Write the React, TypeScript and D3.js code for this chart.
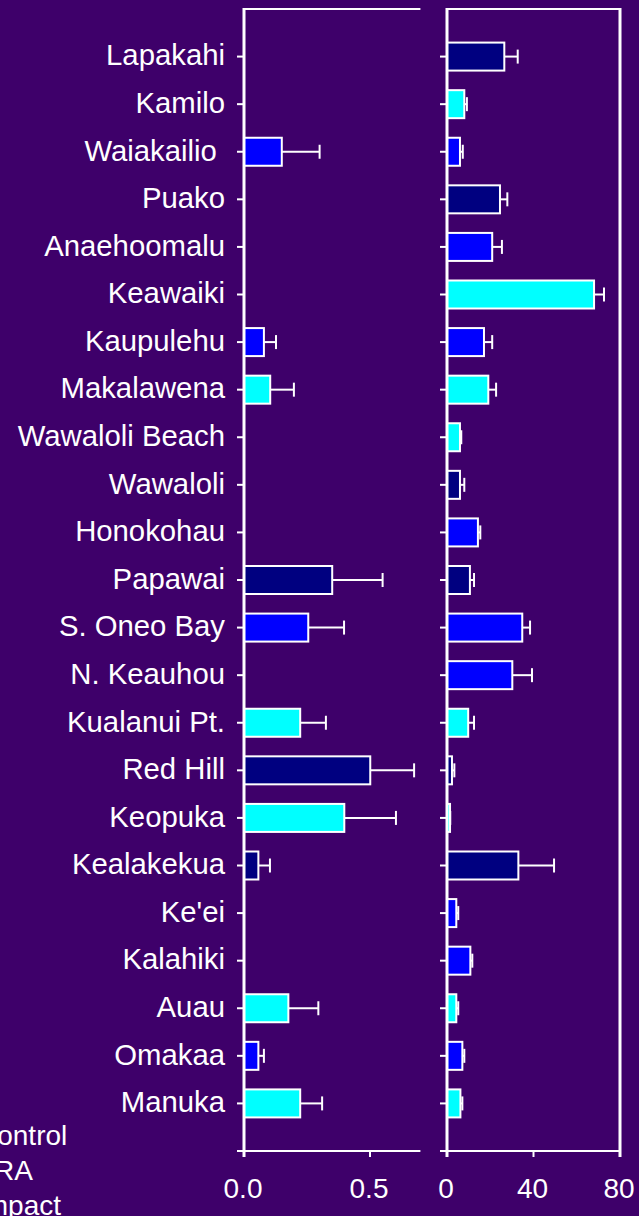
import React from "react";
import * as d3 from "d3";

const categories = [
  "Lapakahi", "Kamilo", "Waiakailio ", "Puako", "Anaehoomalu", "Keawaiki",
  "Kaupulehu", "Makalawena", "Wawaloli Beach", "Wawaloli", "Honokohau",
  "Papawai", "S. Oneo Bay", "N. Keauhou", "Kualanui Pt.", "Red Hill",
  "Keopuka", "Kealakekua", "Ke'ei", "Kalahiki", "Auau", "Omakaa", "Manuka",
];

const groups = [
  "Control", "Impact", "FRA", "Control", "FRA", "Impact",
  "FRA", "Impact", "Impact", "Control", "FRA",
  "Control", "FRA", "FRA", "Impact", "Control",
  "Impact", "Control", "FRA", "FRA", "Impact", "FRA", "Impact",
];

const legendGroups = ["Control", "FRA", "Impact"];
const groupColors = ["#000080", "#0000FF", "#00FFFF"];

// left panel (null = no bar)
const leftMean: (number | null)[] = [
  null, null, 0.15, null, null, null,
  0.079, 0.104, null, null, null,
  0.35, 0.255, null, 0.223, 0.501,
  0.398, 0.057, null, null, 0.176, 0.057, 0.223,
];
const leftErr: (number | null)[] = [
  null, null, 0.15, null, null, null,
  0.048, 0.094, null, null, null,
  0.2, 0.142, null, 0.102, 0.174,
  0.205, 0.046, null, null, 0.119, 0.022, 0.087,
];

// right panel
const rightMean = [
  26.5, 8.0, 6.0, 24.5, 20.9, 68.0,
  17.1, 19.1, 6.0, 6.0, 14.3,
  10.6, 34.8, 30.2, 9.8, 2.3,
  1.4, 33.0, 4.3, 10.8, 4.3, 7.1, 6.2,
];
const rightErr = [
  6.2, 1.2, 1.3, 3.4, 4.5, 4.6,
  3.8, 3.6, 0.6, 2.0, 1.1,
  1.9, 3.6, 9.1, 2.7, 1.1,
  0.1, 16.5, 0.9, 0.9, 0.9, 0.9, 0.9,
];

const leftTicks = [0, 0.5];
const leftTickLabels = ["0.0", "0.5"];
const rightTicks = [0, 40, 80];
const rightTickLabels = ["0", "40", "80"];

const W = 639;
const H = 1216;
const BG = "#3E006A";
const FG = "#FFFFFF";
const FONT = "'Liberation Sans', Arial, Helvetica, sans-serif";

const TOP = 9;
const BOTTOM = 1151;

const y = d3.scalePoint<string>().domain(categories).range([TOP, BOTTOM]).padding(1);
const xL = d3.scaleLinear().domain([0, 0.7]).range([244, 420.4]);
const xR = d3.scaleLinear().domain([0, 80]).range([447, 620]);

const color = d3.scaleOrdinal<string, string>().domain(legendGroups).range(groupColors);

const BAR_H = 28;
const CAP = 14;

function Panel({
  x, means, errs, ticks, tickLabels, rightBorder,
}: {
  x: d3.ScaleLinear<number, number>;
  means: (number | null)[];
  errs: (number | null)[];
  ticks: number[];
  tickLabels: string[];
  rightBorder: boolean;
}) {
  const x0 = x(0);
  const [, x1] = x.range();
  return (
    <g>
      {categories.map((c, i) => {
        const m = means[i];
        if (m == null) return null;
        const cy = y(c)!;
        return (
          <rect
            key={"b" + i}
            x={x0}
            y={cy - BAR_H / 2}
            width={x(m) - x0}
            height={BAR_H}
            fill={color(groups[i])}
            stroke={FG}
            strokeWidth={2}
          />
        );
      })}
      {categories.map((c, i) => {
        const m = means[i];
        const e = errs[i];
        if (m == null || e == null) return null;
        const cy = y(c)!;
        const xe = x(m + e);
        return (
          <g key={"e" + i} stroke={FG} strokeWidth={2}>
            <line x1={x(m)} x2={xe} y1={cy} y2={cy} />
            <line x1={xe} x2={xe} y1={cy - CAP / 2} y2={cy + CAP / 2} />
          </g>
        );
      })}
      {/* top line */}
      <line x1={x0} x2={x1} y1={TOP} y2={TOP} stroke={FG} strokeWidth={2} />
      {/* bottom axis */}
      <line x1={x0 - 7} x2={x1} y1={BOTTOM} y2={BOTTOM} stroke={FG} strokeWidth={2} />
      {ticks.map((t, i) => (
        <g key={"t" + i}>
          <line x1={x(t)} x2={x(t)} y1={BOTTOM} y2={BOTTOM + 6} stroke={FG} strokeWidth={2} />
          <text
            x={x(t) - 1}
            y={1198}
            textAnchor="middle"
            fill={FG}
            fontSize={28}
            fontFamily={FONT}
          >
            {tickLabels[i]}
          </text>
        </g>
      ))}
      {/* y axis */}
      <line x1={x0} x2={x0} y1={TOP - 1} y2={BOTTOM + 6} stroke={FG} strokeWidth={3} />
      {categories.map((c, i) => (
        <line
          key={"yt" + i}
          x1={x0 - 7}
          x2={x0}
          y1={y(c)!}
          y2={y(c)!}
          stroke={FG}
          strokeWidth={2}
        />
      ))}
      {rightBorder && (
        <line x1={x1} x2={x1} y1={TOP - 1} y2={BOTTOM + 6} stroke={FG} strokeWidth={3} />
      )}
    </g>
  );
}

export default function App() {
  React.useEffect(() => {
    document.body.style.margin = "0";
    document.body.style.background = BG;
  }, []);
  return (
    <svg
      width={W}
      height={H}
      style={{ position: "absolute", left: 0, top: 0, display: "block", background: BG }}
    >
      <rect x={0} y={0} width={W} height={H} fill={BG} />
      {categories.map((c, i) => (
        <text
          key={"l" + i}
          x={225}
          y={y(c)!}
          dy="0.3em"
          textAnchor="end"
          fill={FG}
          fontSize={29.3}
          fontFamily={FONT}
          style={{ whiteSpace: "pre" }}
        >
          {c}
        </text>
      ))}
      <Panel
        x={xL}
        means={leftMean}
        errs={leftErr}
        ticks={leftTicks}
        tickLabels={leftTickLabels}
        rightBorder={false}
      />
      <Panel
        x={xR}
        means={rightMean}
        errs={rightErr}
        ticks={rightTicks}
        tickLabels={rightTickLabels}
        rightBorder={true}
      />
      {legendGroups.map((g, i) => (
        <text
          key={"lg" + i}
          x={-23}
          y={1145 + i * 35}
          fill={FG}
          fontSize={28}
          fontFamily={FONT}
        >
          {g}
        </text>
      ))}
    </svg>
  );
}
